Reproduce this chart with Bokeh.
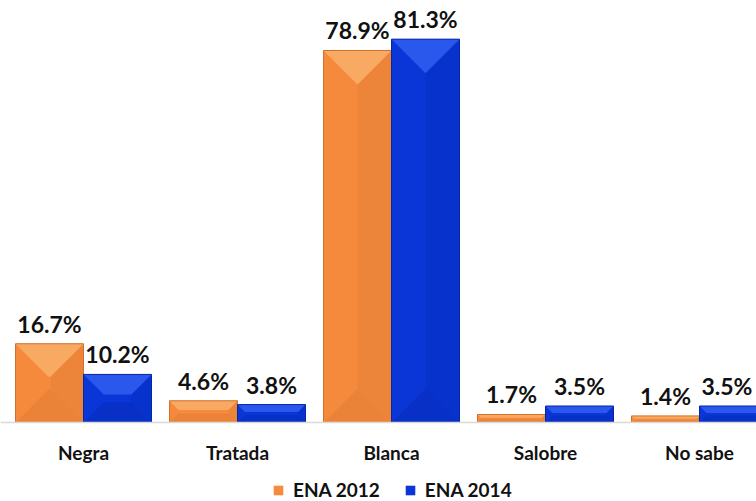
import numpy as np
from bokeh.plotting import figure
from bokeh.models import Range1d, Span, Legend, LegendItem
from bokeh.core.properties import value
from bokeh.embed import file_html
from bokeh.resources import INLINE

# ---- data ----
categories = ["Negra", "Tratada", "Blanca", "Salobre", "No sabe"]
ena_2012 = [16.7, 4.6, 78.9, 1.7, 1.4]
ena_2014 = [10.2, 3.8, 81.3, 3.5, 3.5]
series_names = ["ENA 2012", "ENA 2014"]

# ---- layout constants (pixels) ----
W, H = 756, 501
PX_X = 154.0      # pixels per category
PX_Y = 4.715      # pixels per percentage point
BASE_PX = 422     # baseline distance from top of figure
FIRST_CENTER_PX = 83
BAR_PX = 68
LABEL_FONT_PX = 23

x_start = -FIRST_CENTER_PX / PX_X
p = figure(width=W, height=H,
           x_range=Range1d(x_start, x_start + W / PX_X),
           y_range=Range1d(-(H - BASE_PX) / PX_Y, BASE_PX / PX_Y),
           x_axis_location=None, y_axis_location=None,
           output_backend="svg", toolbar_location=None, min_border=0)
p.grid.visible = False
p.outline_line_color = None
p.background_fill_color = "white"

p.add_layout(Span(location=0, dimension="width", line_color="#D9D9D9", line_width=1.5))

bw = BAR_PX / PX_X
idx = np.arange(len(categories))

styles = [
    dict(face="#F68B3D", top="#F9AA62", left="#F58A3C", right="#EC8539", bottom="#EA8338", edge="#D0702C"),
    dict(face="#0A36D8", top="#2A58EC", left="#0A36D8", right="#0832CC", bottom="#0830C6", edge="#0626A8"),
]

def bevel(xl, xr, top):
    h_px = top * PX_Y
    d = min(BAR_PX / 2, 0.42 * h_px)
    dx, dy = d / PX_X, d / PX_Y
    return {
        "top": ([xl, xr, xr - dx, xl + dx], [top, top, top - dy, top - dy]),
        "bottom": ([xl, xr, xr - dx, xl + dx], [0, 0, dy, dy]),
        "left": ([xl, xl + dx, xl + dx, xl], [top, top - dy, dy, 0]),
        "right": ([xr, xr - dx, xr - dx, xr], [top, top - dy, dy, 0]),
    }

face_renderers = []
for s, (vals, st) in enumerate(zip([ena_2012, ena_2014], styles)):
    centers = idx + (-bw / 2 if s == 0 else bw / 2)
    r = p.vbar(x=centers, top=vals, width=bw, bottom=0,
               fill_color=st["face"], line_color=None)
    face_renderers.append(r)
    parts = {"top": ([], []), "bottom": ([], []), "left": ([], []), "right": ([], [])}
    for c, v in zip(centers, vals):
        for k, (xs, ys) in bevel(c - bw / 2, c + bw / 2, v).items():
            parts[k][0].append(xs)
            parts[k][1].append(ys)
    for k in ["left", "right", "bottom", "top"]:
        p.patches(xs=parts[k][0], ys=parts[k][1], fill_color=st[k], line_color=None)
    p.vbar(x=centers, top=vals, width=bw, bottom=0, fill_color=None,
           line_color=st["edge"], line_width=1)
    texts = [f"{v}%" for v in vals]
    # keep labels fully inside the canvas (shift any that would overflow the right edge)
    offs = []
    for c, t in zip(centers, texts):
        cx = (c - x_start) * PX_X
        half = 0.6 * LABEL_FONT_PX * len(t) / 2
        offs.append(min(0.0, (W - 2) - (cx + half)))
    p.text(x=centers, y=vals, text=texts, x_offset=offs,
           text_align="center", text_baseline="alphabetic", y_offset=-20,
           text_font=value("Lato"), text_font_style="bold",
           text_font_size=f"{LABEL_FONT_PX}px", text_color="#111111")

p.text(x=idx, y=[0] * len(categories), text=categories,
       text_align="center", text_baseline="middle", y_offset=30,
       text_font=value("Lato"), text_font_style="bold",
       text_font_size="19px", text_color="#111111")

legend = Legend(items=[LegendItem(label=n, renderers=[r]) for n, r in zip(series_names, face_renderers)],
                orientation="horizontal", location=(272, 0), padding=0, margin=0,
                spacing=24, glyph_width=12, glyph_height=12, label_standoff=9,
                label_text_font="Lato", label_text_font_style="bold",
                label_text_font_size="19px", label_text_color="#111111",
                background_fill_alpha=0, border_line_color=None)
p.add_layout(legend)

open("out.html", "w").write(file_html(p, INLINE))
